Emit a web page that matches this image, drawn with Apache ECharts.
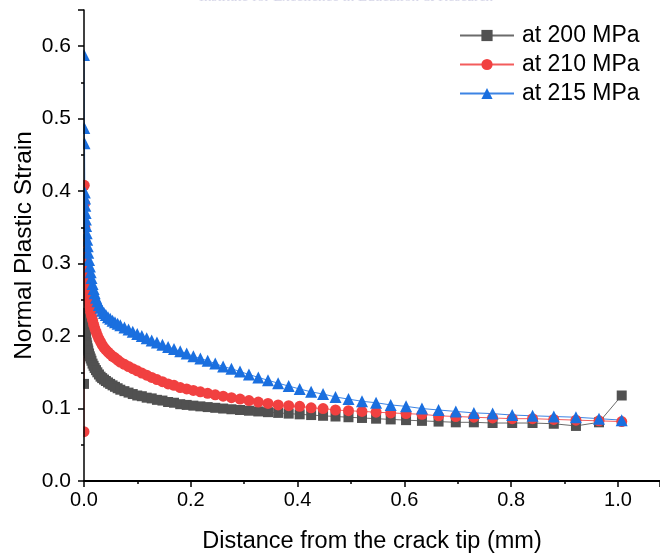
<!DOCTYPE html>
<html>
<head>
<meta charset="utf-8">
<script src="https://cdn.jsdelivr.net/npm/echarts@6/dist/echarts.min.js"></script>
<style>html,body{margin:0;padding:0;background:#fff}#c{width:660px;height:554px}</style>
</head>
<body>
<div id="c"></div>
<script>
const distance = [0, 0.0005, 0.001, 0.0015, 0.002, 0.0025, 0.003, 0.0035, 0.004, 0.005, 0.006, 0.007, 0.008, 0.0095, 0.011, 0.0125, 0.014, 0.016, 0.018, 0.020, 0.0225, 0.025, 0.028, 0.031, 0.034, 0.0375, 0.041, 0.045, 0.049, 0.0535, 0.058, 0.063, 0.068,
  0.0757, 0.0834, 0.0913, 0.0997, 0.1083, 0.1174, 0.1268, 0.1366, 0.1469, 0.1575, 0.1686, 0.1802, 0.1923, 0.2048, 0.2179, 0.2316, 0.2458, 0.2606, 0.2761, 0.2922, 0.3089, 0.3264, 0.3446, 0.3636, 0.3833, 0.4039, 0.4254, 0.4477, 0.471, 0.4953, 0.5206, 0.547, 0.5744, 0.6031, 0.6329, 0.664, 0.6963, 0.7301, 0.7652, 0.8019, 0.84, 0.8798, 0.9213, 0.9645, 1.007];
const strain200 = [0.134, 0.232, 0.225, 0.218, 0.212, 0.207, 0.203, 0.199, 0.196, 0.191, 0.187, 0.183, 0.180, 0.176, 0.172, 0.169, 0.166, 0.162, 0.159, 0.156, 0.153, 0.150, 0.147, 0.144, 0.142, 0.140, 0.138, 0.136, 0.134, 0.132, 0.130, 0.128, 0.126,
  0.124, 0.122, 0.120, 0.118, 0.117, 0.115, 0.114, 0.112, 0.111, 0.109, 0.108, 0.106, 0.105, 0.104, 0.103, 0.102, 0.101, 0.100, 0.099, 0.098, 0.097, 0.096, 0.095, 0.094, 0.093, 0.092, 0.091, 0.090, 0.089, 0.088, 0.087, 0.086, 0.085, 0.084, 0.083, 0.082, 0.081, 0.081, 0.080, 0.080, 0.080, 0.079, 0.076, 0.081, 0.118];
const strain210 = [0.068, 0.408, 0.383, 0.350, 0.330, 0.315, 0.302, 0.292, 0.283, 0.273, 0.265, 0.258, 0.252, 0.245, 0.239, 0.233, 0.228, 0.222, 0.216, 0.211, 0.206, 0.201, 0.196, 0.192, 0.188, 0.184, 0.181, 0.178, 0.175, 0.172, 0.170, 0.167, 0.164,
  0.161, 0.158, 0.155, 0.152, 0.149, 0.146, 0.143, 0.140, 0.137, 0.134, 0.132, 0.129, 0.127, 0.125, 0.123, 0.121, 0.119, 0.117, 0.115, 0.113, 0.111, 0.109, 0.107, 0.105, 0.104, 0.103, 0.101, 0.100, 0.098, 0.097, 0.096, 0.095, 0.094, 0.093, 0.092, 0.090, 0.089, 0.088, 0.087, 0.086, 0.086, 0.085, 0.084, 0.083, 0.082];
const strain215 = [0.588, 0.487, 0.466, 0.398, 0.390, 0.380, 0.370, 0.361, 0.352, 0.342, 0.333, 0.324, 0.315, 0.305, 0.296, 0.288, 0.280, 0.272, 0.265, 0.259, 0.253, 0.248, 0.243, 0.239, 0.235, 0.232, 0.229, 0.226, 0.224, 0.221, 0.219, 0.217, 0.215,
  0.212, 0.209, 0.206, 0.203, 0.200, 0.197, 0.194, 0.191, 0.188, 0.185, 0.182, 0.179, 0.176, 0.172, 0.169, 0.166, 0.162, 0.158, 0.155, 0.151, 0.147, 0.143, 0.139, 0.135, 0.131, 0.127, 0.123, 0.120, 0.116, 0.113, 0.110, 0.108, 0.105, 0.103, 0.100, 0.098, 0.096, 0.094, 0.093, 0.091, 0.090, 0.089, 0.088, 0.086, 0.084];
const seriesNames = ['at 200 MPa', 'at 210 MPa', 'at 215 MPa'];
const xTitle = 'Distance from the crack tip (mm)';
const yTitle = 'Normal Plastic Strain';
const watermark = 'Institute for Excellence in Education & Research';

const FONT = '"Liberation Sans", Arial, sans-serif';
const pairs = ys => distance.map((x, i) => [x, ys[i]]);
const mk = (name, ys, color, symbol, size) => ({
  name, type: 'line', data: pairs(ys), symbol, symbolSize: size, showAllSymbol: true,
  itemStyle: { color, borderWidth: 0 },
  lineStyle: { color, width: 1, opacity: 0.85 },
  emphasis: { disabled: true }, animation: false
});

const chart = echarts.init(document.getElementById('c'), null, { renderer: 'canvas' });
chart.setOption({
  animation: false,
  textStyle: { fontFamily: FONT },
  grid: { left: 84, right: 0, top: 10, bottom: 73, containLabel: false, outerBoundsMode: 'none' },
  graphic: [{
    type: 'text', left: 199, top: -10,
    style: { text: watermark, font: '15px "Liberation Serif", "Times New Roman", serif', fill: '#d6d6e8' }
  }, {
    type: 'rect', zlevel: 1, z: 1, shape: { x: 66, y: 10, width: 17.3, height: 471 },
    style: { fill: '#ffffff' }, silent: true
  }],
  legend: {
    orient: 'vertical', left: 454, top: 19,
    itemWidth: 54, itemHeight: 14, itemGap: 6,
    textStyle: { fontSize: 23, color: '#000', fontFamily: FONT, padding: [0, 0, 0, 3] },
    data: seriesNames
  },
  xAxis: [{
    type: 'value', min: 0, max: 1.0787, interval: 0.2,
    name: xTitle, nameLocation: 'middle', nameGap: 49, nameMoveOverlap: false,
    nameTextStyle: { fontSize: 23.5, color: '#000', fontFamily: FONT },
    axisLine: { show: true, onZero: false, lineStyle: { color: '#000', width: 1.5 } },
    axisTick: { show: true, inside: false, length: 6, lineStyle: { color: '#000', width: 1.5 } },
    minorTick: { show: true, splitNumber: 2, length: 3, lineStyle: { color: '#000', width: 1.5 } },
    axisLabel: { fontSize: 20, color: '#000', margin: 9, showMaxLabel: false, formatter: v => v.toFixed(1) },
    splitLine: { show: false }, zlevel: 1, z: 5
  }, {
    type: 'value', position: 'top', min: 0, max: 1.0787,
    axisLine: { show: true, lineStyle: { color: '#000', width: 2 } },
    axisTick: { show: false }, axisLabel: { show: false }, splitLine: { show: false }, z: 5
  }],
  yAxis: {
    type: 'value', min: 0, max: 0.65, interval: 0.1,
    name: yTitle, nameLocation: 'middle', nameGap: 47, nameMoveOverlap: false,
    nameTextStyle: { fontSize: 24.5, color: '#000', fontFamily: FONT },
    axisLine: { show: true, onZero: false, lineStyle: { color: '#000', width: 1.5 } },
    axisTick: { show: true, inside: false, length: 6, lineStyle: { color: '#000', width: 1.5 } },
    minorTick: { show: true, splitNumber: 2, length: 3, lineStyle: { color: '#000', width: 1.5 } },
    axisLabel: { fontSize: 21, color: '#000', margin: 13, showMaxLabel: false, formatter: v => v.toFixed(1) },
    splitLine: { show: false }, zlevel: 1, z: 5
  },
  series: [
    mk(seriesNames[0], strain200, '#515151', 'rect', 10),
    mk(seriesNames[1], strain210, '#F14040', 'circle', 11),
    mk(seriesNames[2], strain215, '#1A6FDF', 'triangle', 12)
  ]
});
</script>
</body>
</html>
